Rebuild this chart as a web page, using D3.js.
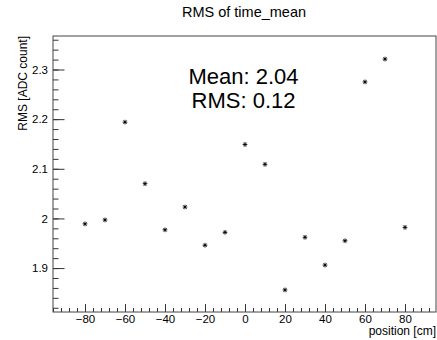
<!DOCTYPE html>
<html>
<head>
<meta charset="utf-8">
<script src="https://cdn.jsdelivr.net/npm/d3@7"></script>
<style>
  body { margin: 0; background: #fff; }
  svg { display: block; font-family: "Liberation Sans", Arial, Helvetica, sans-serif; }
  .tick line { stroke: #333; }
</style>
</head>
<body>
<script>

// data
var positions = [-80, -70, -60, -50, -40, -30, -20, -10, 0, 10, 20, 30, 40, 50, 60, 70, 80];
var rmsValues = [1.989, 1.997, 2.194, 2.070, 1.977, 2.023, 1.946, 1.972, 2.149, 2.109,
                 1.856, 1.962, 1.906, 1.955, 2.275, 2.321, 1.982];

var xTicks = [-80, -60, -40, -20, 0, 20, 40, 60, 80];
var yTicks = [1.9, 2.0, 2.1, 2.2, 2.3];
var yTickLabels = ["1.9", "2", "2.1", "2.2", "2.3"];
var statLabels = ["Mean: 2.04", "RMS: 0.12"];

var title = "RMS of time_mean";
var xTitle = "position [cm]";
var yTitle = "RMS [ADC count]";

var W = 437, H = 340;
var frame = { left: 53, right: 436, top: 36, bottom: 312 };

var x = d3.scaleLinear()
    .domain([-96, 95.5])
    .range([frame.left, frame.right]);
var y = d3.scaleLinear()
    .domain([1.8115, 2.3675])
    .range([frame.bottom, frame.top]);

var svg = d3.select("body").append("svg")
    .attr("width", W)
    .attr("height", H);

// minor ticks
var xMinor = d3.range(-96, 96, 4);
var yMinor = d3.range(1.82, 2.37, 0.02);

svg.append("g")
    .attr("transform", "translate(0," + frame.bottom + ")")
    .call(d3.axisBottom(x).tickValues(xMinor).tickSize(-4).tickFormat(""))
    .call(function(g) { g.select(".domain").remove(); });

svg.append("g")
    .attr("transform", "translate(" + frame.left + ",0)")
    .call(d3.axisLeft(y).tickValues(yMinor).tickSize(-5.5).tickFormat(""))
    .call(function(g) { g.select(".domain").remove(); });

// major ticks + labels
svg.append("g")
    .attr("transform", "translate(0," + frame.bottom + ")")
    .call(d3.axisBottom(x).tickValues(xTicks).tickSize(-8)
      .tickFormat(function(d) { return d < 0 ? "\u2212" + Math.abs(d) : d; }))
    .call(function(g) { g.select(".domain").remove(); })
    .selectAll("text")
    .attr("y", 2.5)
    .attr("dy", "0.71em")
    .style("font-size", "11.5px")
    .style("font-family", "Liberation Sans, Arial, sans-serif")
    .attr("fill", "#000");

svg.append("g")
    .attr("transform", "translate(" + frame.left + ",0)")
    .call(d3.axisLeft(y).tickValues(yTicks).tickSize(-11.5).tickPadding(5)
      .tickFormat(function(d, i) { return yTickLabels[i]; }))
    .call(function(g) { g.select(".domain").remove(); })
    .selectAll("text")
    .style("font-size", "11.5px")
    .style("font-family", "Liberation Sans, Arial, sans-serif")
    .attr("fill", "#000");

// frame
svg.append("rect")
    .attr("x", frame.left)
    .attr("y", frame.top)
    .attr("width", frame.right - frame.left)
    .attr("height", frame.bottom - frame.top)
    .attr("fill", "none")
    .attr("stroke", "#444")
    .attr("stroke-width", 1);

// markers (ROOT style "*")
var star = {
  draw: function(ctx, size) {
    var r = Math.sqrt(size) / 2, d = r * 0.7071;
    ctx.moveTo(-r, 0); ctx.lineTo(r, 0);
    ctx.moveTo(0, -r); ctx.lineTo(0, r);
    ctx.moveTo(-d, -d); ctx.lineTo(d, d);
    ctx.moveTo(-d, d); ctx.lineTo(d, -d);
  }
};

svg.append("g")
    .selectAll("path")
    .data(positions)
    .enter()
    .append("path")
    .attr("transform", function(d, i) { return "translate(" + x(d) + "," + y(rmsValues[i]) + ")"; })
    .attr("d", d3.symbol().type(star).size(22))
    .attr("fill", "none")
    .attr("stroke", "#000")
    .attr("stroke-width", 0.9);

// stats text
svg.append("g")
    .selectAll("text")
    .data(statLabels)
    .enter()
    .append("text")
    .attr("x", 243.5)
    .attr("y", function(d, i) { return 84.3 + i * 24; })
    .style("text-anchor", "middle")
    .style("font-size", "22px")
    .text(function(d) { return d; });

// titles
svg.append("text")
    .attr("x", 244)
    .attr("y", 17)
    .style("text-anchor", "middle")
    .style("font-size", "14.5px")
    .text(title);

svg.append("text")
    .attr("x", 436)
    .attr("y", 334.5)
    .style("text-anchor", "end")
    .style("font-size", "12px")
    .text(xTitle);

svg.append("text")
    .attr("transform", "translate(27," + frame.top + ") rotate(-90)")
    .style("text-anchor", "end")
    .style("font-size", "12px")
    .text(yTitle);

</script>
</body>
</html>
